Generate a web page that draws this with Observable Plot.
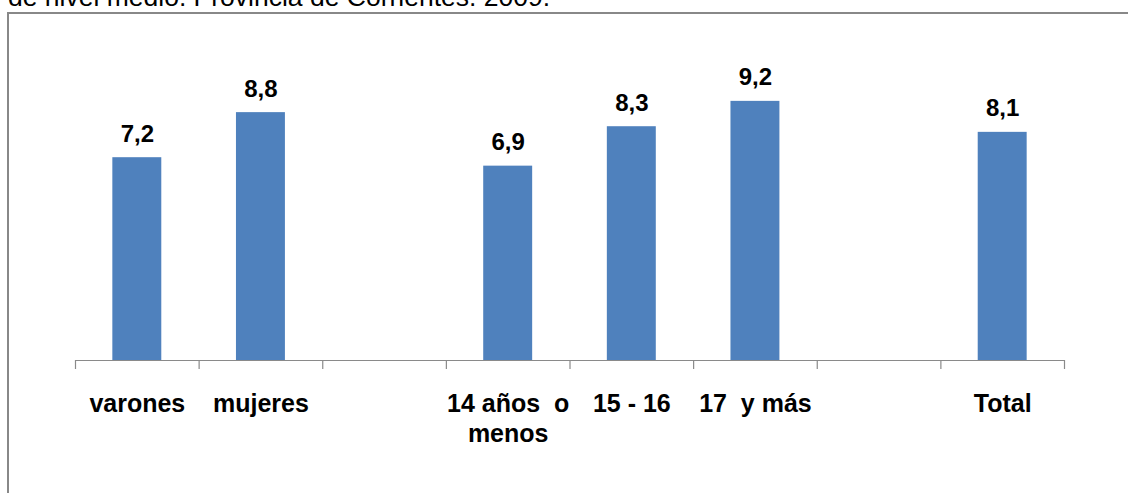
<!DOCTYPE html>
<html><head><meta charset="utf-8">
<script src="https://cdn.jsdelivr.net/npm/d3@7"></script>
<script src="https://cdn.jsdelivr.net/npm/@observablehq/plot@0.6"></script>
<style>
html,body{margin:0;padding:0;background:#fff;overflow:hidden;width:1128px;height:493px;}
#title{position:absolute;left:8px;top:-16px;font:26.5px "Liberation Sans",Arial,sans-serif;line-height:26.5px;white-space:nowrap;color:#000;}
#frame{position:absolute;left:7px;top:12px;width:2000px;height:2000px;border-left:2px solid #888;border-top:2px solid #888;}
#chart{position:absolute;left:0;top:0;}
</style></head><body>
<div id="title">de nivel medio. Provincia de Corrientes. 2009.</div>
<div id="frame"></div>
<div id="chart"></div>
<script>
const slots = ["varones", "mujeres", "gap1", "14 años o menos", "15 - 16", "17 y más", "gap2", "Total"];
const slotLabels = ["varones", "mujeres", "", "14 años\u00a0 o\nmenos", "15 - 16", "17\u00a0 y más", "", "Total"];
const barCategories = ["varones", "mujeres", "14 años o menos", "15 - 16", "17 y más", "Total"];
const barValues = [7.2, 8.8, 6.9, 8.3, 9.2, 8.1];

const data = barCategories.map((c, i) => ({cat: c, value: barValues[i]}));
const fmt = v => v.toFixed(1).replace(".", ",");
const step = (1128 - 75 - 64) / slots.length;

const chart = Plot.plot({
  width: 1128,
  height: 493,
  marginLeft: 75,
  marginRight: 64,
  marginTop: 22,
  marginBottom: 133,
  style: {background: "transparent", fontFamily: "'Liberation Sans', Arial, sans-serif", color: "#000"},
  x: {domain: slots, paddingInner: 0.604, paddingOuter: 0.302, round: false, axis: null},
  y: {domain: [0, 12], axis: null},
  marks: [
    Plot.barY(data, {x: "cat", y: "value", fill: "#4F81BD"}),
    Plot.ruleY([0], {stroke: "#8a8a8a", strokeWidth: 1.2}),
    Plot.axisX({ticks: slots, tickSize: 9, tickFormat: () => "", label: null, dx: -step / 2, stroke: "#8a8a8a", strokeWidth: 1.2}),
    Plot.axisX({ticks: ["Total"], tickSize: 9, tickFormat: () => "", label: null, dx: step / 2, stroke: "#8a8a8a", strokeWidth: 1.2}),
    Plot.text(slots, {x: d => d, y: () => 0, text: (d, i) => slotLabels[i], dy: 31, lineAnchor: "top", lineHeight: 1.18, fontSize: 25, fontWeight: "bold", fill: "#000"}),
    Plot.text(data, {x: "cat", y: "value", text: d => fmt(d.value), dy: -16, lineAnchor: "bottom", fontSize: 24, fontWeight: "bold", fill: "#000"})
  ]
});
document.getElementById("chart").appendChild(chart);
</script>
</body></html>
